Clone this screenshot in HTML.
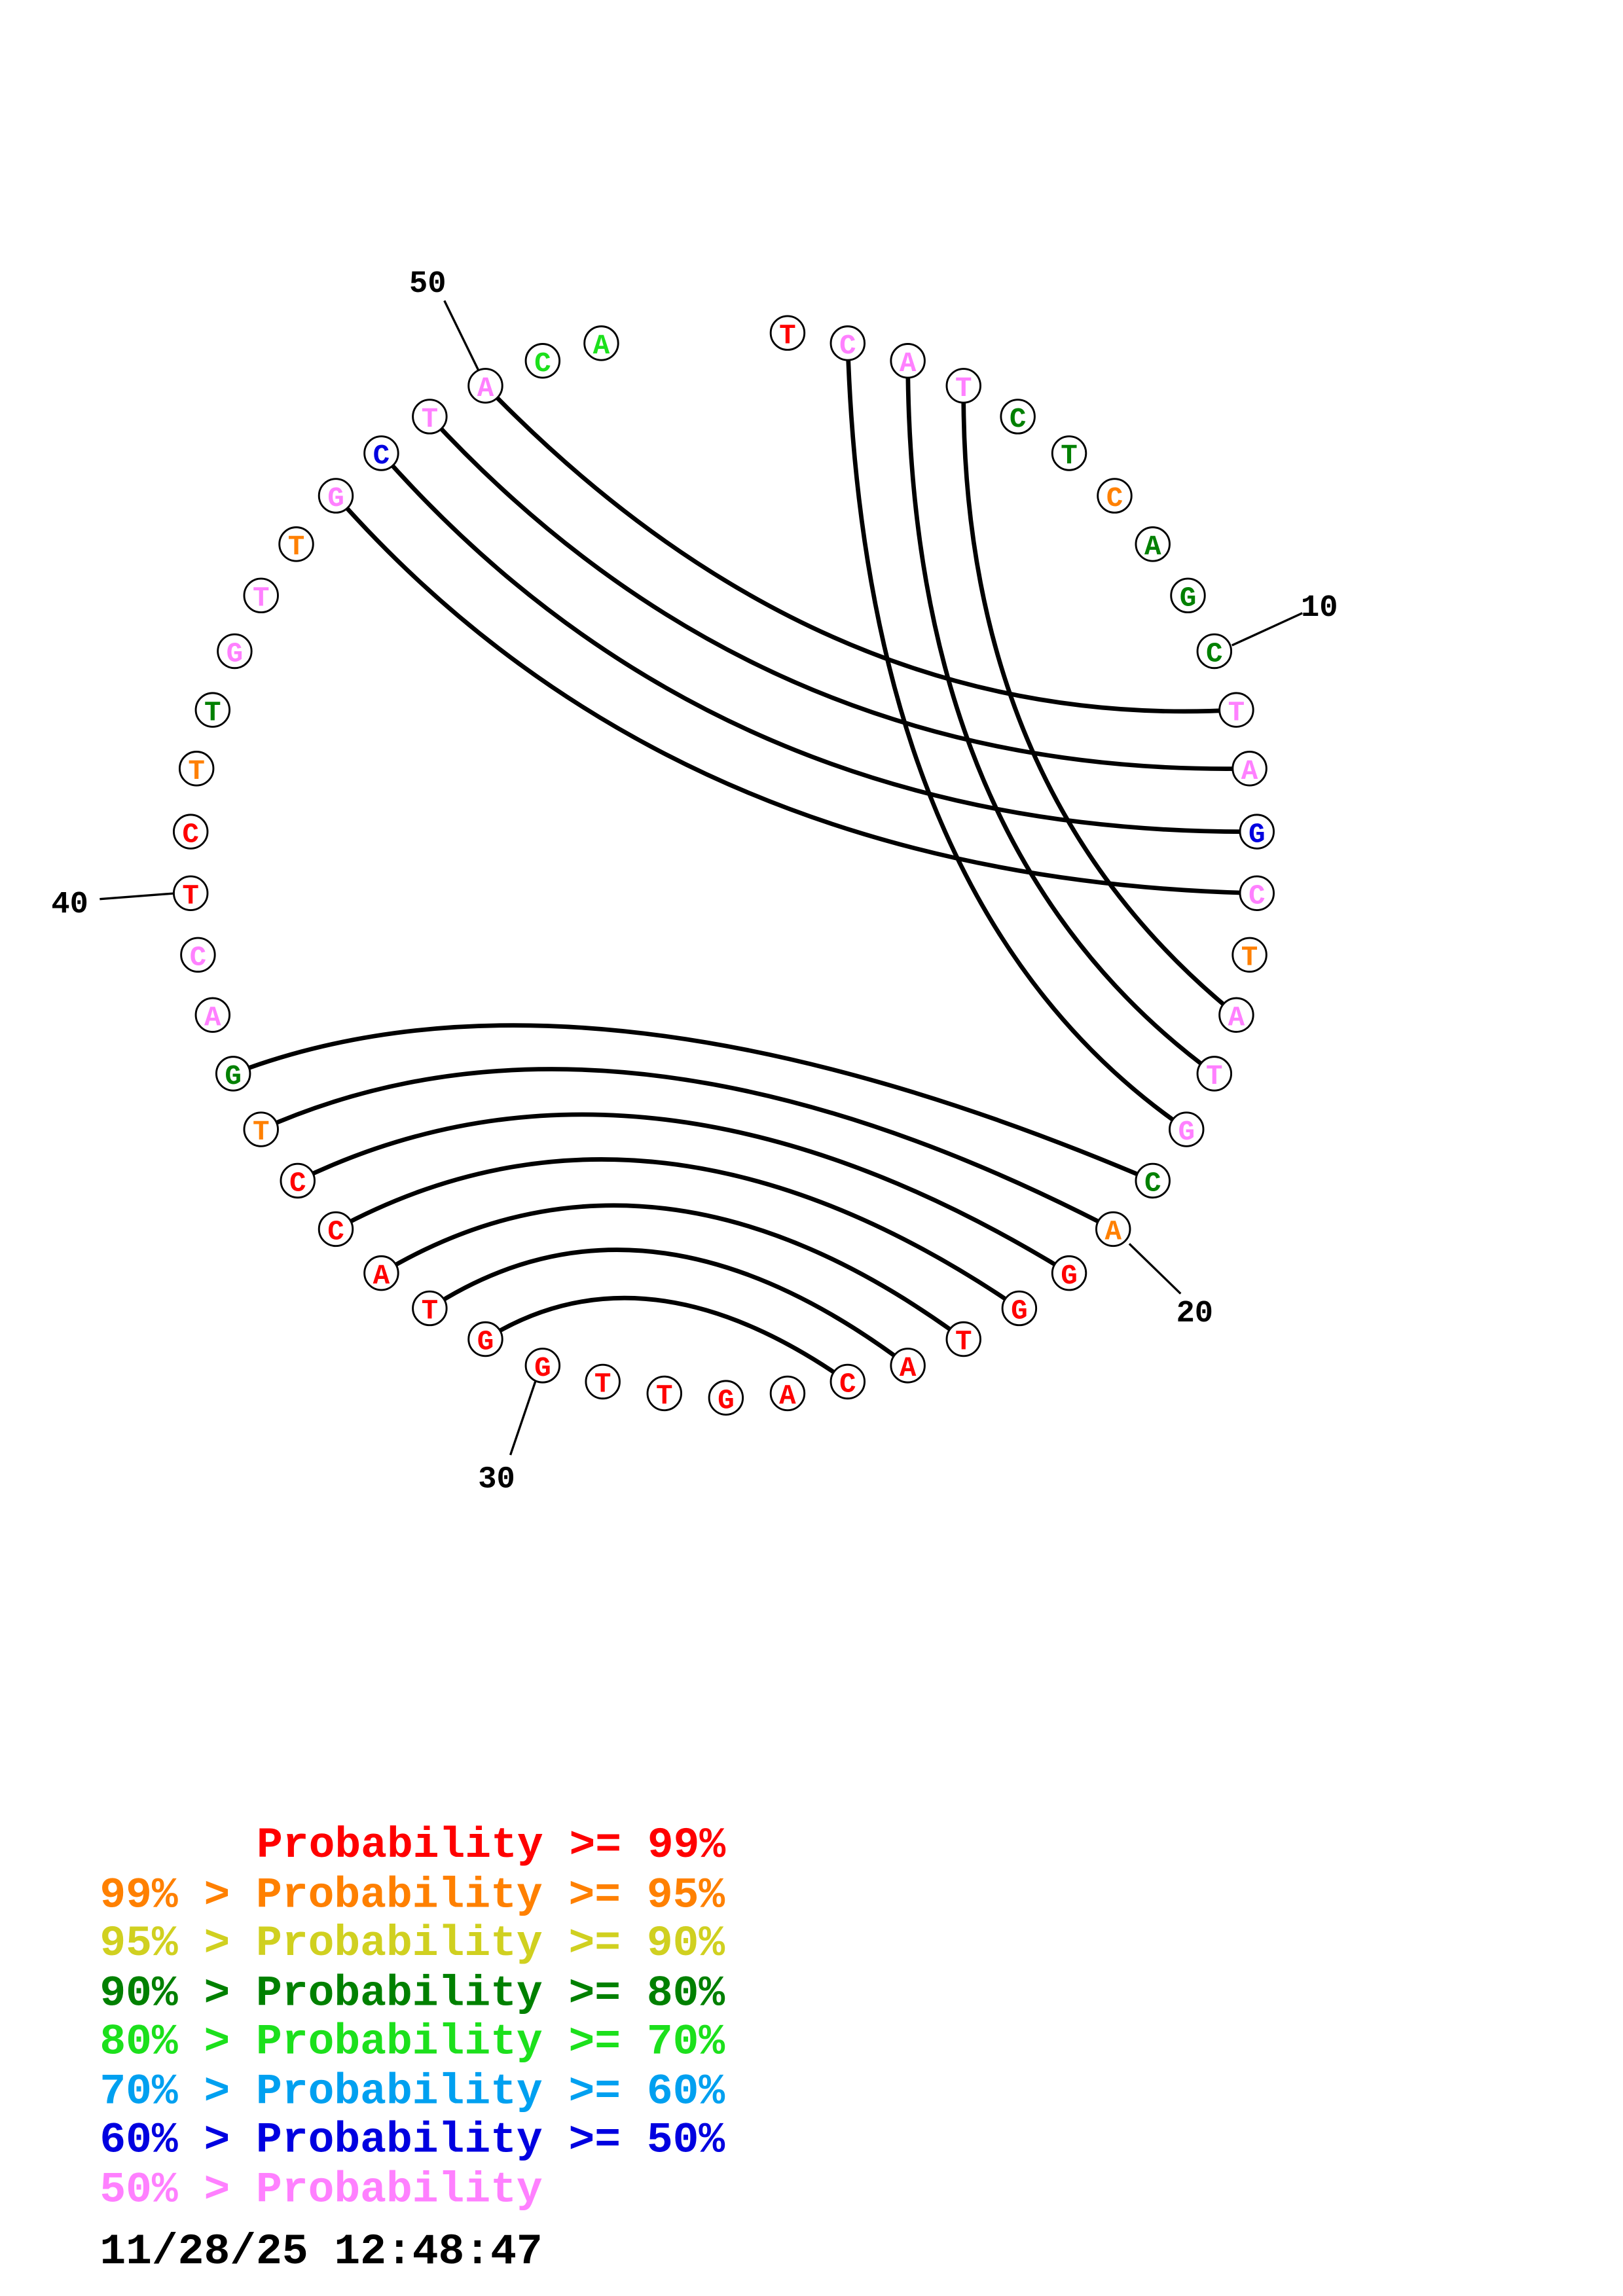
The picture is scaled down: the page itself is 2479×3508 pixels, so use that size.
<!DOCTYPE html>
<html><head><meta charset="utf-8"><style>
html,body{margin:0;padding:0;background:#fff}
svg{display:block}
text{font-family:"Liberation Mono",monospace;font-weight:bold}
</style></head><body>
<svg width="2479" height="3508" viewBox="0 0 1100 1556" preserveAspectRatio="none" xmlns="http://www.w3.org/2000/svg">
<g transform="scale(0.994)">
<g fill="none" stroke="#000" stroke-width="3">
<path d="M331,263 Q560,500 843,484"/>
<path d="M293,284 Q520,530 852,524"/>
<path d="M260,309 Q490,570 857,567"/>
<path d="M229,338 Q460,600 857,609"/>
<path d="M578,234 Q590,620 809,770"/>
<path d="M619,246 Q620,580 828,732"/>
<path d="M657,263 Q655,540 843,692"/>
<path d="M159,732 Q400,640 786,805"/>
<path d="M178,770 Q420,662 759,838"/>
<path d="M203,805 Q440,690 729,868"/>
<path d="M229,838 Q445,721 695,892"/>
<path d="M260,868 Q445,757 657,913"/>
<path d="M293,892 Q440,796 619,931"/>
<path d="M331,913 Q440,845 578,942"/>
</g>
<g stroke="#000" stroke-width="1.5">
<line x1="303" y1="205" x2="326" y2="252"/>
<line x1="888" y1="418" x2="840" y2="440"/>
<line x1="805" y1="882" x2="770" y2="848"/>
<line x1="348" y1="992" x2="365" y2="942"/>
<line x1="68" y1="613" x2="120" y2="609"/>
</g>
<g font-size="21" fill="#000">
<text x="279" y="199">50</text>
<text x="887" y="420">10</text>
<text x="802" y="901">20</text>
<text x="326" y="1014">30</text>
<text x="35" y="622">40</text>
</g>
<g font-size="19" text-anchor="middle" stroke-width="1.3">
<circle cx="537" cy="227" r="11.5" fill="#fff" stroke="#000"/><text x="537" y="234" fill="#f00">T</text>
<circle cx="578" cy="234" r="11.5" fill="#fff" stroke="#000"/><text x="578" y="241" fill="#ff80ff">C</text>
<circle cx="619" cy="246" r="11.5" fill="#fff" stroke="#000"/><text x="619" y="253" fill="#ff80ff">A</text>
<circle cx="657" cy="263" r="11.5" fill="#fff" stroke="#000"/><text x="657" y="270" fill="#ff80ff">T</text>
<circle cx="694" cy="284" r="11.5" fill="#fff" stroke="#000"/><text x="694" y="291" fill="#008000">C</text>
<circle cx="729" cy="309" r="11.5" fill="#fff" stroke="#000"/><text x="729" y="316" fill="#008000">T</text>
<circle cx="760" cy="338" r="11.5" fill="#fff" stroke="#000"/><text x="760" y="345" fill="#ff8000">C</text>
<circle cx="786" cy="371" r="11.5" fill="#fff" stroke="#000"/><text x="786" y="378" fill="#008000">A</text>
<circle cx="810" cy="406" r="11.5" fill="#fff" stroke="#000"/><text x="810" y="413" fill="#008000">G</text>
<circle cx="828" cy="444" r="11.5" fill="#fff" stroke="#000"/><text x="828" y="451" fill="#008000">C</text>
<circle cx="843" cy="484" r="11.5" fill="#fff" stroke="#000"/><text x="843" y="491" fill="#ff80ff">T</text>
<circle cx="852" cy="524" r="11.5" fill="#fff" stroke="#000"/><text x="852" y="531" fill="#ff80ff">A</text>
<circle cx="857" cy="567" r="11.5" fill="#fff" stroke="#000"/><text x="857" y="574" fill="#0000e0">G</text>
<circle cx="857" cy="609" r="11.5" fill="#fff" stroke="#000"/><text x="857" y="616" fill="#ff80ff">C</text>
<circle cx="852" cy="651" r="11.5" fill="#fff" stroke="#000"/><text x="852" y="658" fill="#ff8000">T</text>
<circle cx="843" cy="692" r="11.5" fill="#fff" stroke="#000"/><text x="843" y="699" fill="#ff80ff">A</text>
<circle cx="828" cy="732" r="11.5" fill="#fff" stroke="#000"/><text x="828" y="739" fill="#ff80ff">T</text>
<circle cx="809" cy="770" r="11.5" fill="#fff" stroke="#000"/><text x="809" y="777" fill="#ff80ff">G</text>
<circle cx="786" cy="805" r="11.5" fill="#fff" stroke="#000"/><text x="786" y="812" fill="#008000">C</text>
<circle cx="759" cy="838" r="11.5" fill="#fff" stroke="#000"/><text x="759" y="845" fill="#ff8000">A</text>
<circle cx="729" cy="868" r="11.5" fill="#fff" stroke="#000"/><text x="729" y="875" fill="#f00">G</text>
<circle cx="695" cy="892" r="11.5" fill="#fff" stroke="#000"/><text x="695" y="899" fill="#f00">G</text>
<circle cx="657" cy="913" r="11.5" fill="#fff" stroke="#000"/><text x="657" y="920" fill="#f00">T</text>
<circle cx="619" cy="931" r="11.5" fill="#fff" stroke="#000"/><text x="619" y="938" fill="#f00">A</text>
<circle cx="578" cy="942" r="11.5" fill="#fff" stroke="#000"/><text x="578" y="949" fill="#f00">C</text>
<circle cx="537" cy="950" r="11.5" fill="#fff" stroke="#000"/><text x="537" y="957" fill="#f00">A</text>
<circle cx="495" cy="953" r="11.5" fill="#fff" stroke="#000"/><text x="495" y="960" fill="#f00">G</text>
<circle cx="453" cy="950" r="11.5" fill="#fff" stroke="#000"/><text x="453" y="957" fill="#f00">T</text>
<circle cx="411" cy="942" r="11.5" fill="#fff" stroke="#000"/><text x="411" y="949" fill="#f00">T</text>
<circle cx="370" cy="931" r="11.5" fill="#fff" stroke="#000"/><text x="370" y="938" fill="#f00">G</text>
<circle cx="331" cy="913" r="11.5" fill="#fff" stroke="#000"/><text x="331" y="920" fill="#f00">G</text>
<circle cx="293" cy="892" r="11.5" fill="#fff" stroke="#000"/><text x="293" y="899" fill="#f00">T</text>
<circle cx="260" cy="868" r="11.5" fill="#fff" stroke="#000"/><text x="260" y="875" fill="#f00">A</text>
<circle cx="229" cy="838" r="11.5" fill="#fff" stroke="#000"/><text x="229" y="845" fill="#f00">C</text>
<circle cx="203" cy="805" r="11.5" fill="#fff" stroke="#000"/><text x="203" y="812" fill="#f00">C</text>
<circle cx="178" cy="770" r="11.5" fill="#fff" stroke="#000"/><text x="178" y="777" fill="#ff8000">T</text>
<circle cx="159" cy="732" r="11.5" fill="#fff" stroke="#000"/><text x="159" y="739" fill="#008000">G</text>
<circle cx="145" cy="692" r="11.5" fill="#fff" stroke="#000"/><text x="145" y="699" fill="#ff80ff">A</text>
<circle cx="135" cy="651" r="11.5" fill="#fff" stroke="#000"/><text x="135" y="658" fill="#ff80ff">C</text>
<circle cx="130" cy="609" r="11.5" fill="#fff" stroke="#000"/><text x="130" y="616" fill="#f00">T</text>
<circle cx="130" cy="567" r="11.5" fill="#fff" stroke="#000"/><text x="130" y="574" fill="#f00">C</text>
<circle cx="134" cy="524" r="11.5" fill="#fff" stroke="#000"/><text x="134" y="531" fill="#ff8000">T</text>
<circle cx="145" cy="484" r="11.5" fill="#fff" stroke="#000"/><text x="145" y="491" fill="#008000">T</text>
<circle cx="160" cy="444" r="11.5" fill="#fff" stroke="#000"/><text x="160" y="451" fill="#ff80ff">G</text>
<circle cx="178" cy="406" r="11.5" fill="#fff" stroke="#000"/><text x="178" y="413" fill="#ff80ff">T</text>
<circle cx="202" cy="371" r="11.5" fill="#fff" stroke="#000"/><text x="202" y="378" fill="#ff8000">T</text>
<circle cx="229" cy="338" r="11.5" fill="#fff" stroke="#000"/><text x="229" y="345" fill="#ff80ff">G</text>
<circle cx="260" cy="309" r="11.5" fill="#fff" stroke="#000"/><text x="260" y="316" fill="#0000e0">C</text>
<circle cx="293" cy="284" r="11.5" fill="#fff" stroke="#000"/><text x="293" y="291" fill="#ff80ff">T</text>
<circle cx="331" cy="263" r="11.5" fill="#fff" stroke="#000"/><text x="331" y="270" fill="#ff80ff">A</text>
<circle cx="370" cy="246" r="11.5" fill="#fff" stroke="#000"/><text x="370" y="253" fill="#1ce01c">C</text>
<circle cx="410" cy="234" r="11.5" fill="#fff" stroke="#000"/><text x="410" y="241" fill="#1ce01c">A</text>
</g>
<g font-size="29.6">
<text x="175" y="1266" fill="#f00">Probability &gt;= 99%</text>
<text x="68" y="1300" fill="#ff8000">99% &gt; Probability &gt;= 95%</text>
<text x="68" y="1333" fill="#d0d020">95% &gt; Probability &gt;= 90%</text>
<text x="68" y="1367" fill="#008000">90% &gt; Probability &gt;= 80%</text>
<text x="68" y="1400" fill="#1ce01c">80% &gt; Probability &gt;= 70%</text>
<text x="68" y="1434" fill="#00a0f0">70% &gt; Probability &gt;= 60%</text>
<text x="68" y="1467" fill="#0000e0">60% &gt; Probability &gt;= 50%</text>
<text x="68" y="1501" fill="#ff80ff">50% &gt; Probability</text>
<text x="68" y="1543" fill="#000">11/28/25 12:48:47</text>
</g>
</g>
</svg>
</body></html>
